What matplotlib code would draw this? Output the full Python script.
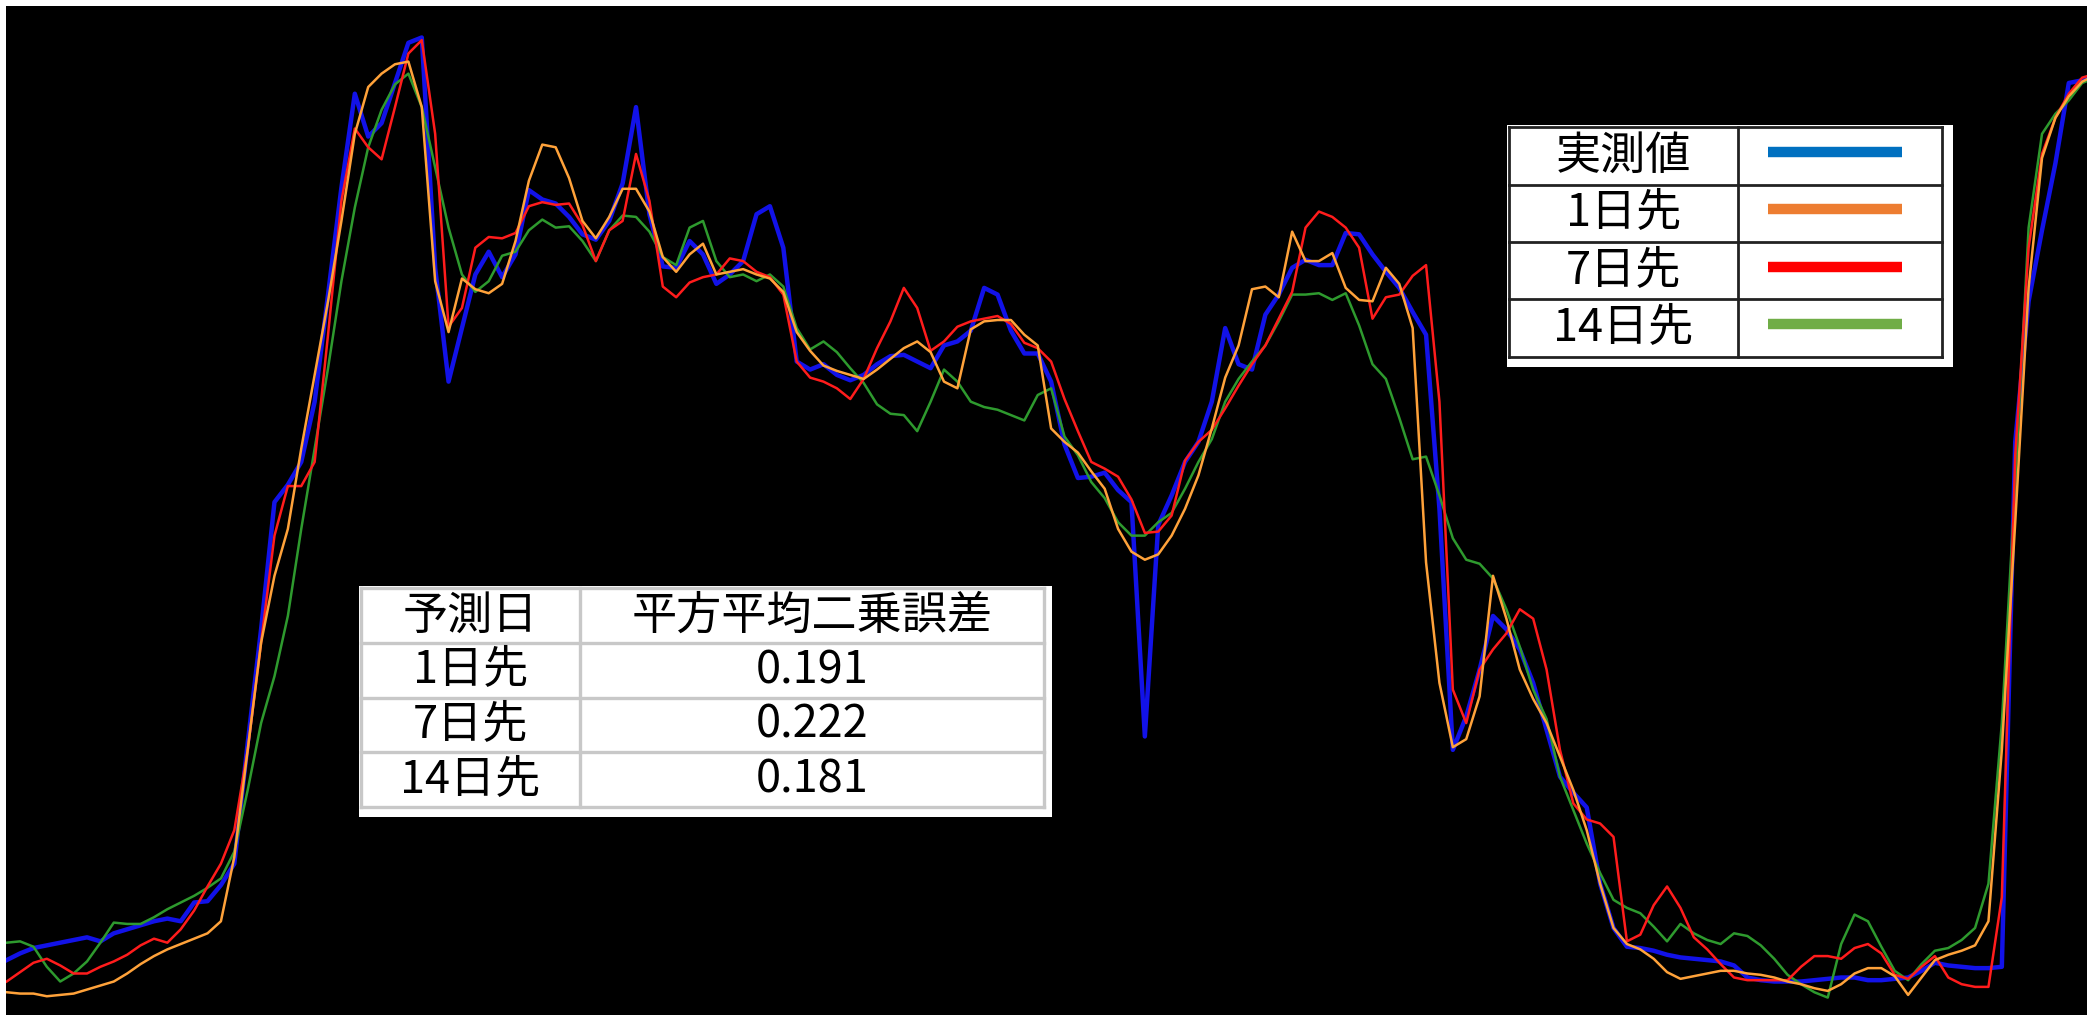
import numpy as np
import matplotlib
matplotlib.use("Agg")
import matplotlib.pyplot as plt
from matplotlib.patches import Rectangle
from matplotlib.lines import Line2D

plt.rcParams['font.family'] = ['Noto Sans CJK JP', 'DejaVu Sans']

# ---- series (one value per day) ----
actual = [33, 38, 42, 44, 46, 48, 50, 47, 53, 56, 59, 62, 64, 62, 76, 77, 89, 105, 195, 280,
          375, 388, 405, 450, 530, 610, 680, 648, 658, 688, 718, 722, 550, 465, 505, 545, 562, 543, 560, 608,
          601, 598, 588, 575, 571, 585, 613, 670, 590, 551, 550, 570, 560, 538, 545, 555, 590, 596, 565, 480,
          474, 478, 470, 466, 470, 478, 484, 485, 480, 475, 492, 495, 503, 535, 530, 503, 486, 486, 465, 418,
          393, 394, 397, 384, 375, 200, 358, 380, 405, 420, 450, 505, 478, 474, 515, 530, 550, 556, 552, 552,
          576, 575, 560, 547, 535, 517, 500, 370, 190, 215, 250, 290, 280, 265, 240, 205, 170, 158, 147, 90,
          57, 43, 42, 40, 37, 35, 34, 33, 32, 29, 20, 18, 17, 17, 17, 18, 19, 20, 20, 18,
          18, 19, 20, 25, 31, 29, 28, 27, 27, 28, 420, 525, 578, 628, 688, 690, 695]

pred_1d = [9, 8, 8, 6, 7, 8, 11, 14, 17, 23, 30, 36, 41, 45, 49, 53, 62, 110, 190, 270,
           320, 355, 415, 470, 525, 585, 650, 685, 695, 702, 704, 670, 540, 502, 542, 534, 531, 538, 570, 615,
           642, 640, 617, 585, 572, 588, 609, 609, 592, 558, 547, 560, 568, 545, 547, 549, 545, 542, 532, 502,
           488, 477, 473, 470, 467, 474, 482, 490, 495, 487, 465, 460, 504, 510, 511, 511, 500, 492, 430, 420,
           412, 398, 385, 355, 338, 332, 336, 350, 370, 395, 430, 468, 492, 534, 536, 528, 577, 555, 555, 561,
           535, 526, 525, 550, 538, 505, 330, 240, 192, 198, 230, 320, 288, 250, 228, 210, 185, 160, 130, 90,
           57, 45, 41, 34, 24, 19, 21, 23, 25, 25, 23, 22, 20, 17, 15, 12, 10, 15, 23, 27,
           27, 21, 7, 20, 33, 37, 40, 44, 62, 190, 360, 535, 632, 662, 678, 689, 694]

pred_7d = [17, 24, 31, 34, 29, 23, 23, 28, 32, 37, 44, 49, 46, 56, 70, 88, 105, 130, 190, 270,
           350, 387, 387, 405, 500, 600, 654, 640, 631, 670, 710, 720, 650, 506, 520, 565, 573, 572, 576, 596,
           599, 597, 598, 582, 555, 578, 585, 635, 600, 536, 528, 539, 543, 545, 557, 555, 547, 543, 530, 480,
           468, 465, 460, 452, 467, 490, 510, 535, 520, 488, 495, 506, 510, 512, 514, 508, 494, 490, 480, 452,
           428, 405, 400, 394, 377, 352, 353, 365, 406, 420, 429, 445, 462, 478, 492, 512, 532, 580, 592, 588,
           580, 565, 512, 528, 530, 544, 552, 450, 235, 210, 250, 265, 277, 295, 288, 250, 190, 150, 138, 135,
           125, 47, 52, 74, 88, 72, 50, 41, 30, 20, 18, 18, 18, 18, 28, 36, 36, 34, 42, 45,
           38, 22, 19, 28, 36, 20, 15, 13, 13, 80, 410, 565, 635, 662, 680, 692, 695]

pred_14d = [46, 47, 43, 28, 17, 23, 32, 46, 61, 60, 60, 65, 71, 76, 81, 87, 94, 114, 160, 210,
            245, 290, 355, 415, 475, 540, 595, 640, 668, 687, 695, 670, 625, 580, 545, 532, 540, 559, 562, 578,
            586, 580, 581, 570, 555, 578, 589, 588, 577, 558, 552, 580, 585, 555, 543, 545, 540, 545, 536, 505,
            489, 495, 487, 475, 464, 448, 441, 440, 428, 450, 474, 465, 450, 446, 444, 440, 436, 455, 460, 424,
            410, 390, 378, 360, 350, 350, 360, 367, 385, 405, 422, 450, 467, 480, 492, 510, 530, 530, 531, 526,
            531, 507, 478, 467, 438, 407, 409, 380, 348, 332, 329, 318, 295, 267, 235, 213, 170, 145, 120, 98,
            78, 72, 68, 58, 47, 60, 53, 48, 45, 53, 51, 44, 34, 22, 15, 9, 5, 45, 67, 62,
            43, 25, 18, 30, 40, 42, 48, 57, 90, 210, 390, 580, 650, 665, 675, 688, 692]

days = np.arange(len(actual))

legend_labels = ['実測値', '1日先', '7日先', '14日先']
legend_colors = ['#0070C0', '#ED7D31', '#FF0000', '#70AD47']

rmse_header = ['予測日', '平方平均二乗誤差']
rmse_horizons = ['1日先', '7日先', '14日先']
rmse_values = [0.191, 0.222, 0.181]

# ---- figure ----
W, H = 2100, 1015
fig = plt.figure(figsize=(W / 100, H / 100), dpi=100, facecolor='white')


def fx(p):
    return p / W


def fy(p):
    return 1 - p / H


ax = fig.add_axes([fx(6), 0, (2087 - 6) / W, 1 - 6 / H])
ax.set_facecolor('black')
ax.plot(days, actual, color='#1212e8', lw=3.2, zorder=2, solid_joinstyle='round')
ax.plot(days, pred_14d, color='#2e9a2e', lw=1.8, zorder=3)
ax.plot(days, pred_7d, color='#ff1c1c', lw=1.8, zorder=4)
ax.plot(days, pred_1d, color='#ffa23a', lw=1.8, zorder=5)
ax.set_xlim(-0.05, 155.36)
ax.set_ylim(-8, 745.5)
ax.set_xticks([])
ax.set_yticks([])
for s in ax.spines.values():
    s.set_visible(False)


def rect(x0, y0, x1, y1, **kw):
    fig.add_artist(Rectangle((fx(x0), fy(y1)), (x1 - x0) / W, (y1 - y0) / H,
                             transform=fig.transFigure, **kw))


def hline(x0, x1, y, **kw):
    fig.add_artist(Line2D([fx(x0), fx(x1)], [fy(y), fy(y)], transform=fig.transFigure, **kw))


def vline(x, y0, y1, **kw):
    fig.add_artist(Line2D([fx(x), fx(x)], [fy(y0), fy(y1)], transform=fig.transFigure, **kw))


FS = 32.5

# ---- legend table (top right) ----
L0, L1, LC = 1509, 1942, 1738
LT, LB = 127, 357
rect(1507, 125, 1953, 367, facecolor='white', edgecolor='none', zorder=10)
rh = (LB - LT) / len(legend_labels)
bk = dict(color='#222222', lw=2.0, zorder=11, solid_capstyle='projecting')
for k in range(len(legend_labels) + 1):
    hline(L0, L1, LT + k * rh, **bk)
vline(L0, LT, LB, **bk)
vline(LC, LT, LB, **bk)
vline(L1, LT, LB, **bk)
for k, (lab, col) in enumerate(zip(legend_labels, legend_colors)):
    cy = LT + (k + 0.5) * rh
    fig.text(fx((L0 + LC) / 2), fy(cy), lab, ha='center', va='center',
             fontsize=FS, color='black', zorder=12)
    hline(1768, 1902, cy - 4, color=col, lw=7.5, solid_capstyle='butt', zorder=12)

# ---- error table (bottom left) ----
T0, T1, TC = 361, 1044, 580
TT, TB = 588, 807
rect(359, 586, 1052, 817, facecolor='white', edgecolor='none', zorder=10)
gr = dict(color='#c8c8c8', lw=2.4, zorder=11, solid_capstyle='projecting')
th = (TB - TT) / (len(rmse_horizons) + 1)
for k in range(len(rmse_horizons) + 2):
    hline(T0, T1, TT + k * th, **gr)
vline(T0, TT, TB, **gr)
vline(TC, TT, TB, **gr)
vline(T1, TT, TB, **gr)
c1 = (T0 + TC) / 2
c2 = (TC + T1) / 2
fig.text(fx(c1), fy(TT + 0.5 * th), rmse_header[0], ha='center', va='center', fontsize=FS, zorder=12)
fig.text(fx(c2), fy(TT + 0.5 * th), rmse_header[1], ha='center', va='center', fontsize=FS, zorder=12)
for k, (lab, val) in enumerate(zip(rmse_horizons, rmse_values)):
    cy = TT + (k + 1.5) * th
    fig.text(fx(c1), fy(cy), lab, ha='center', va='center', fontsize=FS, zorder=12)
    fig.text(fx(c2), fy(cy), f'{val:.3f}', ha='center', va='center', fontsize=FS, zorder=12)

fig.savefig('out.png', dpi=100, facecolor='white')
